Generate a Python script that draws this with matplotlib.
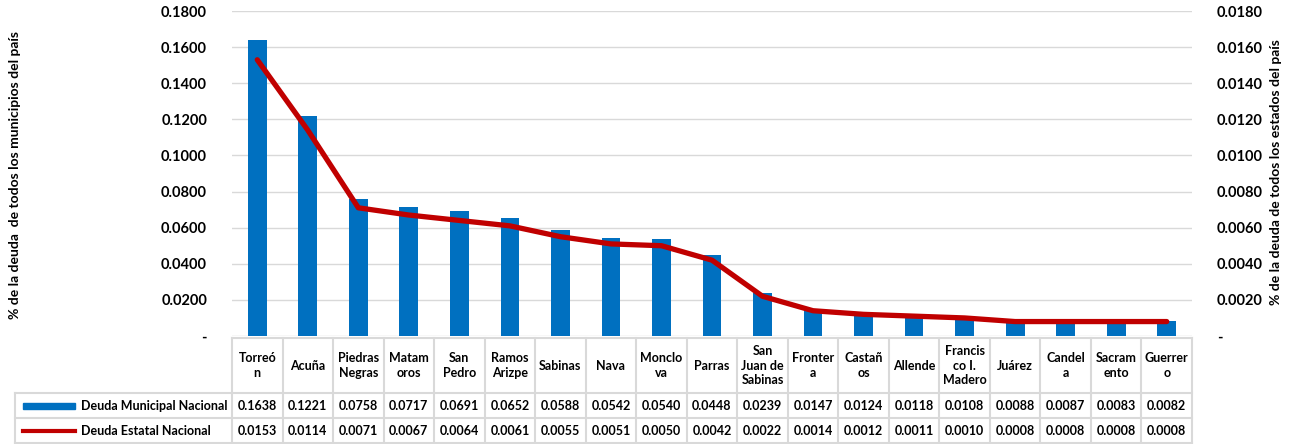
import numpy as np
import matplotlib.pyplot as plt
from matplotlib.ticker import FuncFormatter
from matplotlib.lines import Line2D
from matplotlib.patches import Rectangle

plt.rcParams['font.family'] = ['Lato', 'DejaVu Sans']
plt.rcParams['font.weight'] = 'bold'

municipios = ["Torreó\nn", "Acuña", "Piedras\nNegras", "Matam\noros", "San\nPedro",
              "Ramos\nArizpe", "Sabinas", "Nava", "Monclo\nva", "Parras",
              "San\nJuan de\nSabinas", "Fronter\na", "Castañ\nos", "Allende",
              "Francis\nco I.\nMadero", "Juárez", "Candel\na", "Sacram\nento", "Guerrer\no"]
deuda_municipal = [0.1638, 0.1221, 0.0758, 0.0717, 0.0691, 0.0652, 0.0588, 0.0542, 0.0540,
                   0.0448, 0.0239, 0.0147, 0.0124, 0.0118, 0.0108, 0.0088, 0.0087, 0.0083, 0.0082]
deuda_estatal = [0.0153, 0.0114, 0.0071, 0.0067, 0.0064, 0.0061, 0.0055, 0.0051, 0.0050,
                 0.0042, 0.0022, 0.0014, 0.0012, 0.0011, 0.0010, 0.0008, 0.0008, 0.0008, 0.0008]
series = ["Deuda Municipal Nacional", "Deuda Estatal Nacional"]

blue = '#0070C0'
red = '#C00000'
grid = '#D9D9D9'

W, H = 1289, 444
fig = plt.figure(figsize=(W / 100, H / 100), dpi=100)
x0, x1 = 232, 1192
ytop, ybot = 11, 336
ax = fig.add_axes([x0 / W, 1 - ybot / H, (x1 - x0) / W, (ybot - ytop) / H])
ax2 = ax.twinx()

n = len(municipios)
x = np.arange(n)
ax.bar(x, deuda_municipal, width=0.37, color=blue, zorder=2)
ax2.plot(x, deuda_estatal, color=red, lw=3.8, solid_capstyle='round', zorder=3)

ax.set_xlim(-0.5, n - 0.5)
ax.set_ylim(0, 0.18)
ax2.set_ylim(0, 0.018)
ax.set_yticks(np.arange(0, 0.1801, 0.02))
ax2.set_yticks(np.arange(0, 0.01801, 0.002))
fmt = FuncFormatter(lambda v, p: '-' if abs(v) < 1e-9 else f'{v:.4f}')
ax.yaxis.set_major_formatter(fmt)
ax2.yaxis.set_major_formatter(fmt)
ax.set_xticks([])
ax.grid(axis='y', color=grid, lw=1, zorder=0)
ax.set_axisbelow(True)
for a in (ax, ax2):
    for s in a.spines.values():
        s.set_visible(False)
    a.tick_params(axis='y', length=0, labelsize=10.5, pad=18)
ax.set_zorder(ax2.get_zorder() - 1)
ax2.patch.set_visible(False)

fig.text(15 / W, 1 - 175 / H, '% de la deuda  de todos los municipios del país', rotation=90,
         ha='center', va='center', fontsize=10, fontweight='bold')
fig.text(1276 / W, 1 - 172 / H, '% de la deuda de todos los estados del país', rotation=90,
         ha='center', va='center', fontsize=10, fontweight='bold')

# data table
cw = (x1 - x0) / n
rows = [338, 393, 418, 443]
lx = 15


def fx(px):
    return px / W


def fy(py):
    return 1 - py / H


lines = []
for i in range(n + 1):
    xx = x0 + i * cw
    lines.append(([xx, xx], [rows[0], rows[3]]))
lines.append(([lx, lx], [rows[1], rows[3]]))
lines.append(([x0, x1], [rows[0], rows[0]]))
for r in rows[1:]:
    lines.append(([lx, x1], [r, r]))
for xs, ys in lines:
    fig.add_artist(Line2D([fx(v) for v in xs], [fy(v) for v in ys], color=grid, lw=1.5))

for i, name in enumerate(municipios):
    cx = x0 + (i + 0.5) * cw
    fig.text(fx(cx), fy((rows[0] + rows[1]) / 2), name, ha='center', va='center',
             fontsize=9, fontweight='bold', linespacing=1.25)
    fig.text(fx(cx), fy((rows[1] + rows[2]) / 2), f'{deuda_municipal[i]:.4f}', ha='center',
             va='center', fontsize=9, fontweight='bold')
    fig.text(fx(cx), fy((rows[2] + rows[3]) / 2), f'{deuda_estatal[i]:.4f}', ha='center',
             va='center', fontsize=9, fontweight='bold')

ym = (rows[1] + rows[2]) / 2
fig.add_artist(Rectangle((fx(23), fy(ym + 3)), (75 - 23) / W, 6 / H, color=blue))
ym2 = (rows[2] + rows[3]) / 2
fig.add_artist(Line2D([fx(23), fx(75)], [fy(ym2), fy(ym2)], color=red, lw=3))
fig.text(fx(81), fy(ym), series[0], ha='left', va='center', fontsize=9, fontweight='bold')
fig.text(fx(81), fy(ym2), series[1], ha='left', va='center', fontsize=9, fontweight='bold')

fig.savefig('out.png', dpi=100)
